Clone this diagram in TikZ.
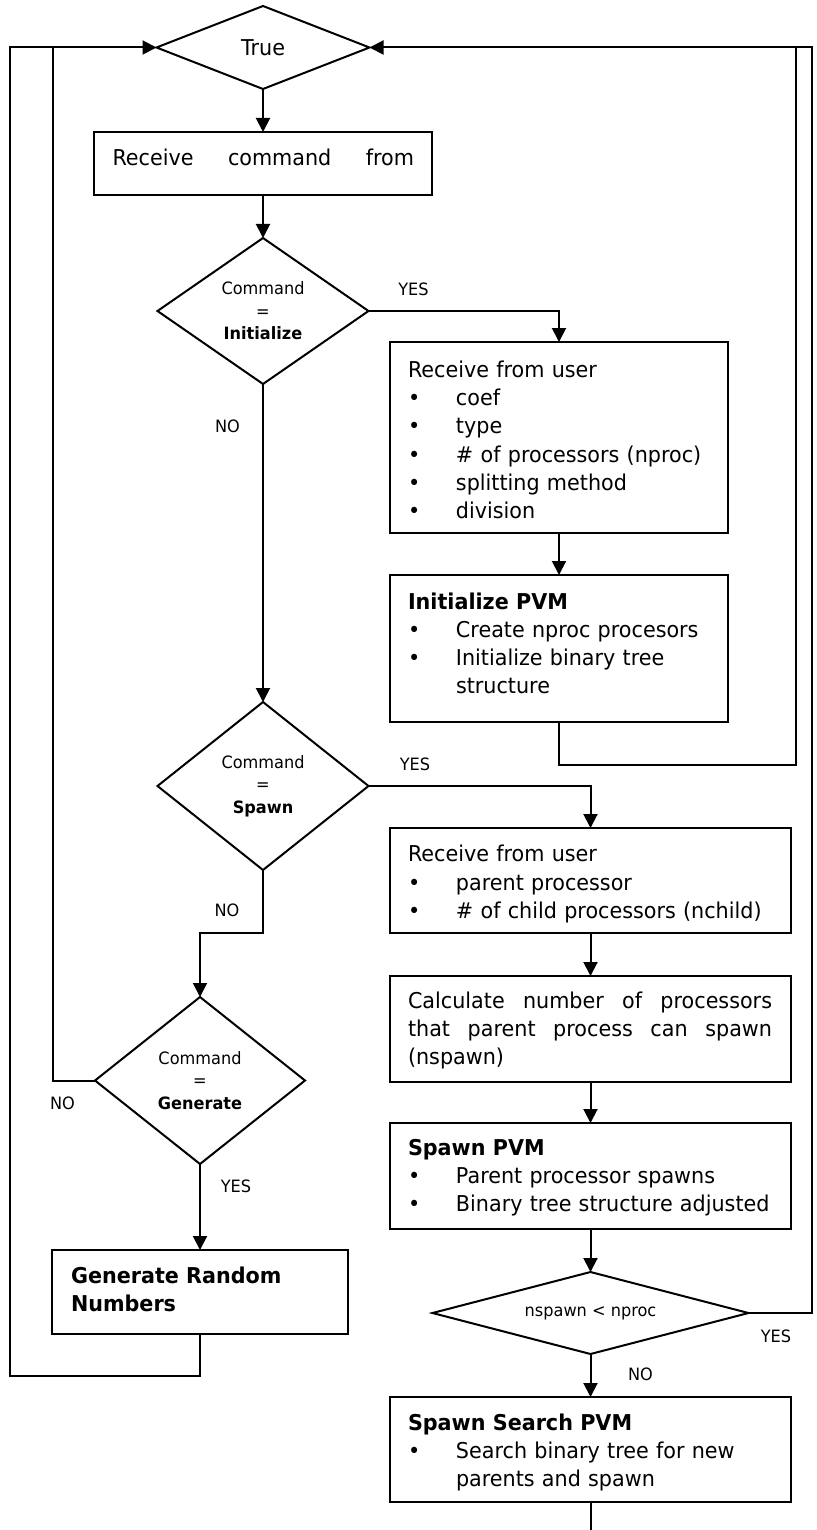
\documentclass[tikz,border=0pt]{standalone}
\usepackage{fontspec}
\setmainfont{DejaVu Sans}[FakeStretch=0.95]
\usetikzlibrary{shapes.geometric,arrows.meta}
% bullet item, and a continuation line aligned with the item text
\newcommand{\bitem}[1]{\par\noindent\makebox[48pt][l]{\textbullet}#1}
\newcommand{\bcont}[1]{\par\noindent\hspace*{48pt}#1}
\begin{document}
\begin{tikzpicture}[x=1pt,y=-1pt,
  every node/.style={inner sep=0pt,outer sep=0pt},
  boxnode/.style={draw,line width=2.2pt,rectangle},
  decision/.style={draw,line width=2pt,diamond,align=center,font=\fontsize{17}{22.5}\selectfont},
  boxtext/.style={anchor=base west,align=left,font=\fontsize{21.8}{28.3}\selectfont},
  lbl/.style={font=\fontsize{17}{20}\selectfont},
  flow/.style={line width=2pt},
  arr/.style={flow,-{Triangle[length=14pt,width=14pt]}}]
\useasboundingbox (0,0) rectangle (816,1530);

% decisions
\node[decision,aspect=2.57,minimum width=213pt,minimum height=83pt,font=\fontsize{21.8}{26}\selectfont] (trueD) at (263,47.5) {True};
\node[decision,aspect=1.45,minimum width=211pt,minimum height=146pt] (initD) at (263,311) {Command\\=\\\textbf{Initialize}};
\node[decision,aspect=1.26,minimum width=211pt,minimum height=168pt] (spawnD) at (263,786) {Command\\=\\\textbf{Spawn}};
\node[decision,aspect=1.26,minimum width=210pt,minimum height=167pt] (genD) at (200,1080.5) {Command\\=\\\textbf{Generate}};
\node[decision,aspect=3.85,minimum width=316pt,minimum height=82pt] (nspD) at (590.5,1313) {nspawn < nproc};

% process boxes
\node[boxnode,minimum width=338pt,minimum height=63pt] (cmdB) at (263,163.5) {};
\node[boxnode,minimum width=338pt,minimum height=191pt] (recvB) at (559,437.5) {};
\node[boxnode,minimum width=338pt,minimum height=147pt] (initB) at (559,648.5) {};
\node[boxnode,minimum width=401pt,minimum height=105pt] (recv2B) at (590.5,880.5) {};
\node[boxnode,minimum width=401pt,minimum height=106pt] (calcB) at (590.5,1029) {};
\node[boxnode,minimum width=401pt,minimum height=106pt] (spawnB) at (590.5,1176) {};
\node[boxnode,minimum width=401pt,minimum height=105pt] (searchB) at (590.5,1449.5) {};
\node[boxnode,minimum width=296pt,minimum height=84pt] (genB) at (200,1292) {};

% box texts
\node[boxtext,text width=301.5pt] (cmdT) at (112.5,166) {\hbox to 301.5pt{Receive\hfill command\hfill from}};
\node[boxtext,text width=320pt] (recvT) at (408,377.3) {Receive from user\bitem{coef}\bitem{type}\bitem{\# of processors (nproc)}\bitem{splitting method}\bitem{division}};
\node[boxtext,text width=320pt] (initT) at (408,609) {\textbf{Initialize PVM}\bitem{Create nproc procesors}\bitem{Initialize binary tree}\bcont{structure}};
\node[boxtext,text width=380pt] (recv2T) at (408,861.7) {Receive from user\bitem{parent processor}\bitem{\# of child processors (nchild)}};
\node[boxtext,text width=364pt] (calcT) at (408,1008) {\hbox to 364pt{Calculate\hfill number\hfill of\hfill processors}\par\hbox to 364pt{that\hfill parent\hfill process\hfill can\hfill spawn}\par\noindent(nspawn)};
\node[boxtext,text width=380pt] (spawnT) at (408,1155) {\textbf{Spawn PVM}\bitem{Parent processor spawns}\bitem{Binary tree structure adjusted}};
\node[boxtext,text width=380pt] (searchT) at (408,1430) {\textbf{Spawn Search PVM}\bitem{Search binary tree for new}\bcont{parents and spawn}};
\node[boxtext,text width=270pt] (genT) at (71,1283) {\textbf{Generate Random}\par\textbf{Numbers}};

% branch labels
\node[lbl] (yes1) at (413.5,289.5) {YES};
\node[lbl] (no1) at (227.5,426.7) {NO};
\node[lbl] (yes2) at (415,764.7) {YES};
\node[lbl] (no2) at (227,910) {NO};
\node[lbl] (no3) at (62.5,1103.5) {NO};
\node[lbl] (yes3) at (236,1186) {YES};
\node[lbl] (yes4) at (776,1336) {YES};
\node[lbl] (no4) at (640.5,1374) {NO};

% routing points
\coordinate (rInit) at (796,765);
\coordinate (rTop) at (796,47.5);
\coordinate (rOuter) at (812,47.5);
\coordinate (sJog) at (200,933);
\coordinate (lInner) at (52.5,47.5);
\coordinate (lLow) at (9.5,1376);
\coordinate (exitB) at (590.5,1530);

% main flow
\draw[arr] (trueD.south) -- (cmdB.north);
\draw[arr] (cmdB.south) -- (initD.north);
\draw[arr] (initD.east) -| (recvB.north);
\draw[arr] (recvB.south) -- (initB.north);
\draw[arr] (initB.south) |- (rInit) |- (trueD.east);
\draw[arr] (initD.south) -- (spawnD.north);
\draw[arr] (spawnD.east) -| (recv2B.north);
\draw[arr] (recv2B.south) -- (calcB.north);
\draw[arr] (calcB.south) -- (spawnB.north);
\draw[arr] (spawnB.south) -- (nspD.north);
\draw[flow] (nspD.east) -| (rOuter) -- (rTop);
\draw[arr] (nspD.south) -- (searchB.north);
\draw[flow] (searchB.south) -- (exitB);
\draw[arr] (spawnD.south) |- (sJog) -- (genD.north);
\draw[arr] (genD.west) -| (lInner) -- (trueD.west);
\draw[arr] (genD.south) -- (genB.north);
\draw[flow] (genB.south) |- (lLow) |- (lInner);
\end{tikzpicture}
\end{document}
